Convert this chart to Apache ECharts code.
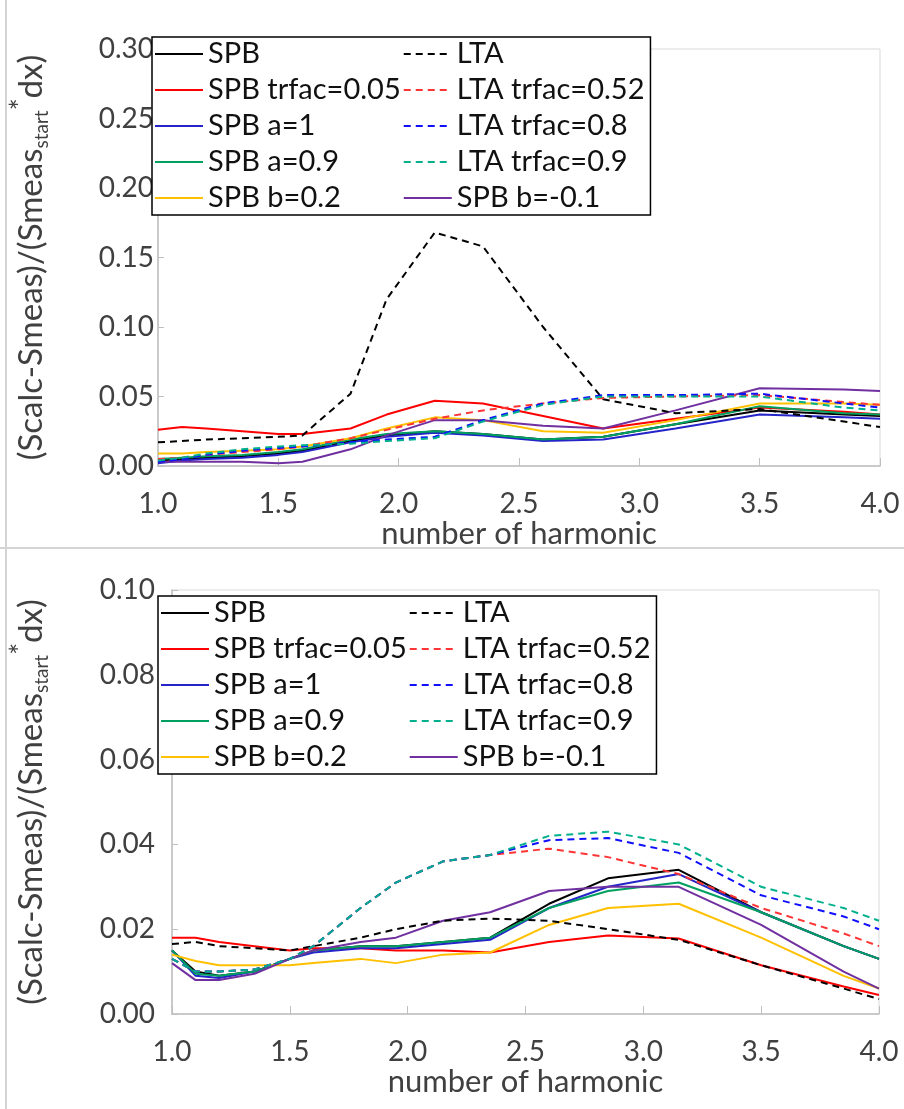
<!DOCTYPE html>
<html>
<head>
<meta charset="utf-8">
<script src="https://cdn.jsdelivr.net/npm/echarts@6/dist/echarts.min.js"></script>
<style>
  html, body { margin: 0; padding: 0; background: #fff; }
  #chart { width: 904px; height: 1109px; }
</style>
</head>
<body>
<div id="chart"></div>
<script>
// harmonic numbers where both panels were evaluated
const harmonic = [1.0, 1.1, 1.2, 1.35, 1.5, 1.6, 1.8, 1.95, 2.15, 2.35, 2.6, 2.85, 3.15, 3.5, 3.85, 4.0];

const seriesNames = ['SPB', 'SPB trfac=0.05', 'SPB a=1', 'SPB a=0.9', 'SPB b=0.2',
                     'LTA', 'LTA trfac=0.52', 'LTA trfac=0.8', 'LTA trfac=0.9', 'SPB b=-0.1'];

// upper panel
const topSPB     = [0.004, 0.005, 0.006, 0.007, 0.009, 0.011, 0.018, 0.022, 0.025, 0.023, 0.019, 0.021, 0.030, 0.040, 0.037, 0.036];
const topSPBtr   = [0.026, 0.028, 0.027, 0.025, 0.023, 0.023, 0.027, 0.037, 0.047, 0.045, 0.036, 0.027, 0.034, 0.042, 0.039, 0.037];
const topSPBa1   = [0.002, 0.004, 0.005, 0.006, 0.008, 0.010, 0.017, 0.021, 0.024, 0.022, 0.018, 0.019, 0.027, 0.037, 0.035, 0.034];
const topSPBa09  = [0.005, 0.006, 0.007, 0.008, 0.010, 0.012, 0.019, 0.023, 0.025, 0.023, 0.019, 0.021, 0.030, 0.043, 0.038, 0.037];
const topSPBb02  = [0.009, 0.009, 0.010, 0.011, 0.012, 0.014, 0.020, 0.027, 0.035, 0.033, 0.025, 0.024, 0.033, 0.045, 0.045, 0.044];
const topLTA     = [0.017, 0.018, 0.019, 0.020, 0.021, 0.022, 0.052, 0.120, 0.168, 0.158, 0.100, 0.048, 0.038, 0.041, 0.032, 0.028];
const topLTA052  = [0.005, 0.006, 0.008, 0.010, 0.012, 0.014, 0.020, 0.026, 0.034, 0.040, 0.045, 0.049, 0.050, 0.051, 0.046, 0.044];
const topLTA08   = [0.003, 0.005, 0.008, 0.011, 0.013, 0.014, 0.017, 0.019, 0.021, 0.033, 0.045, 0.051, 0.051, 0.052, 0.045, 0.042];
const topLTA09   = [0.004, 0.006, 0.009, 0.012, 0.014, 0.015, 0.016, 0.018, 0.020, 0.032, 0.044, 0.050, 0.050, 0.050, 0.042, 0.040];
const topSPBbm01 = [0.003, 0.003, 0.003, 0.003, 0.002, 0.003, 0.012, 0.022, 0.033, 0.033, 0.029, 0.027, 0.040, 0.056, 0.055, 0.054];

// lower panel
const botSPB     = [0.015, 0.010, 0.009, 0.010, 0.013, 0.015, 0.016, 0.016, 0.017, 0.018, 0.026, 0.032, 0.034, 0.024, 0.016, 0.013];
const botSPBtr   = [0.018, 0.018, 0.017, 0.016, 0.015, 0.0155, 0.0155, 0.015, 0.015, 0.0145, 0.017, 0.0185, 0.0178, 0.0115, 0.0065, 0.0045];
const botSPBa1   = [0.015, 0.009, 0.0085, 0.010, 0.013, 0.0145, 0.0155, 0.0155, 0.0165, 0.0175, 0.025, 0.030, 0.033, 0.024, 0.016, 0.013];
const botSPBa09  = [0.015, 0.0095, 0.009, 0.010, 0.013, 0.015, 0.016, 0.016, 0.017, 0.018, 0.025, 0.029, 0.031, 0.024, 0.016, 0.013];
const botSPBb02  = [0.014, 0.0125, 0.0115, 0.0115, 0.0115, 0.012, 0.013, 0.012, 0.014, 0.0145, 0.021, 0.025, 0.026, 0.018, 0.009, 0.006];
const botLTA     = [0.0165, 0.017, 0.016, 0.0155, 0.015, 0.016, 0.018, 0.020, 0.022, 0.0225, 0.022, 0.020, 0.0175, 0.0115, 0.006, 0.0035];
const botLTA052  = [0.013, 0.010, 0.010, 0.0105, 0.013, 0.016, 0.025, 0.031, 0.036, 0.0375, 0.039, 0.037, 0.033, 0.025, 0.019, 0.016];
const botLTA08   = [0.013, 0.010, 0.010, 0.0105, 0.013, 0.016, 0.025, 0.031, 0.036, 0.0375, 0.041, 0.0415, 0.038, 0.028, 0.023, 0.020];
const botLTA09   = [0.013, 0.010, 0.010, 0.0105, 0.013, 0.016, 0.025, 0.031, 0.036, 0.0375, 0.042, 0.043, 0.040, 0.030, 0.025, 0.022];
const botSPBbm01 = [0.012, 0.008, 0.008, 0.0095, 0.013, 0.015, 0.017, 0.018, 0.022, 0.024, 0.029, 0.030, 0.030, 0.021, 0.010, 0.006];

const topData = [topSPB, topSPBtr, topSPBa1, topSPBa09, topSPBb02, topLTA, topLTA052, topLTA08, topLTA09, topSPBbm01];
const botData = [botSPB, botSPBtr, botSPBa1, botSPBa09, botSPBb02, botLTA, botLTA052, botLTA08, botLTA09, botSPBbm01];

const colors = ['#000000', '#ff0000', '#2424c8', '#00a060', '#ffc000',
                '#000000', '#ff3535', '#1010ff', '#00b08c', '#7030a0'];
const dashed = [false, false, false, false, false, true, true, true, true, false];

const font = 'Lato, sans-serif';
const tickColor = '#404040';

function makeSeries(dataSets, axisIndex) {
    return dataSets.map(function (vals, i) {
        return {
            name: seriesNames[i],
            type: 'line',
            xAxisIndex: axisIndex,
            yAxisIndex: axisIndex,
            symbol: 'none',
            z: dashed[i] ? 3 : 2,
            lineStyle: {
                color: colors[i],
                width: 2,
                type: dashed[i] ? [7, 5] : 'solid'
            },
            itemStyle: { color: colors[i] },
            data: harmonic.map(function (x, k) { return [x, vals[k]]; })
        };
    });
}

function makeLegend(left, top) {
    return {
        orient: 'vertical',
        left: left,
        top: top,
        height: 178,
        itemGap: 2,
        itemWidth: 48,
        itemHeight: 14,
        itemTextGap: 3,
        padding: [0, 6, 0, 2],
        borderColor: '#000',
        borderWidth: 1.5,
        backgroundColor: '#fff',
        itemStyle: { opacity: 0 },
        data: seriesNames,
        textStyle: { fontFamily: font, fontSize: 29, color: '#111', lineHeight: 34 }
    };
}

const yName = '{m|(Scalc-Smeas)/(Smeas}{sub|start}{sup|*}{m|dx)}';
const yNameStyle = {
    fontFamily: font,
    color: tickColor,
    rich: {
        m: { fontFamily: font, fontSize: 33, color: tickColor, lineHeight: 46 },
        sub: { fontFamily: font, fontSize: 19, color: tickColor, verticalAlign: 'bottom', lineHeight: 19, padding: [0, 0, 3, 0] },
        sup: { fontFamily: font, fontSize: 28, color: tickColor, verticalAlign: 'top', lineHeight: 24 }
    }
};

function makeXAxis(gridIndex, gap) {
    return {
        type: 'value',
        gridIndex: gridIndex,
        min: 1, max: 4, interval: 0.5,
        name: 'number of harmonic',
        nameLocation: 'middle',
        nameGap: gap,
        nameTextStyle: { fontFamily: font, fontSize: 31, color: tickColor },
        axisLine: { lineStyle: { color: '#bfbfbf', width: 1.5 } },
        axisTick: { inside: true, length: 8, lineStyle: { color: '#bfbfbf' } },
        splitLine: { show: false },
        axisLabel: {
            margin: 24,
            fontFamily: font, fontSize: 28, color: tickColor,
            formatter: function (v) { return v.toFixed(1); }
        }
    };
}

function makeYAxis(gridIndex, max, interval, gap, labelMargin) {
    return {
        type: 'value',
        gridIndex: gridIndex,
        min: 0, max: max, interval: interval,
        name: yName,
        nameLocation: 'middle',
        nameRotate: 90,
        nameGap: gap,
        nameTextStyle: yNameStyle,
        axisLine: { show: true, lineStyle: { color: '#bfbfbf', width: 1.5 } },
        axisTick: { show: true, inside: true, length: 6, lineStyle: { color: '#bfbfbf' } },
        splitLine: { show: false },
        axisLabel: {
            margin: labelMargin,
            fontFamily: font, fontSize: 28, color: tickColor,
            formatter: function (v) { return v.toFixed(2); }
        }
    };
}

const chart = echarts.init(document.getElementById('chart'), null, { renderer: 'canvas' });
chart.setOption({
    backgroundColor: '#ffffff',
    animation: false,
    graphic: [
        { type: 'line', shape: { x1: 6, y1: 0, x2: 6, y2: 1109 }, style: { stroke: '#d4d4d4', lineWidth: 2 } },
        { type: 'line', shape: { x1: 0, y1: 548, x2: 904, y2: 548 }, style: { stroke: '#d4d4d4', lineWidth: 2 } }
    ],
    grid: [
        { left: 140, right: 24, top: 49, bottom: 1109 - 466, show: true, borderColor: '#d9d9d9', borderWidth: 1 },
        { left: 154, right: 25, top: 590, bottom: 1109 - 1014, show: true, borderColor: '#d9d9d9', borderWidth: 1 }
    ],
    legend: [makeLegend(152, 37), makeLegend(158, 596)],
    xAxis: [makeXAxis(0, 41), makeXAxis(1, 49)],
    yAxis: [makeYAxis(0, 0.3, 0.05, 104, 4), makeYAxis(1, 0.1, 0.02, 118, 17)],
    series: makeSeries(topData, 0).concat(makeSeries(botData, 1))
});
</script>
</body>
</html>
